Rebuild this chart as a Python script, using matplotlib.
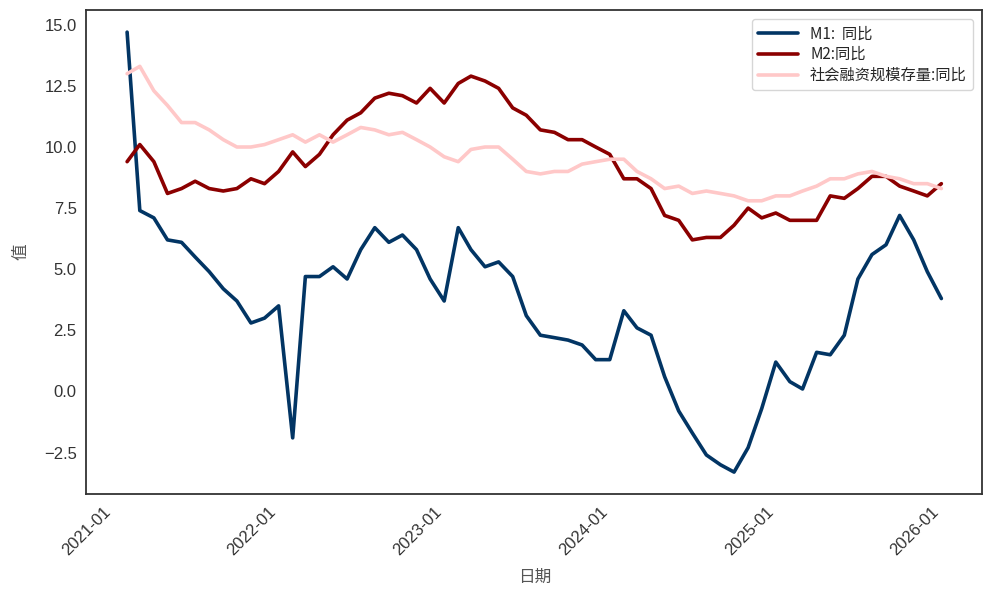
import numpy as np
import pandas as pd
import matplotlib
matplotlib.use('Agg')
import matplotlib.pyplot as plt
import seaborn as sns

sns.set_style('white')
plt.rcParams['font.family'] = ['Liberation Sans', 'Noto Sans CJK SC', 'DejaVu Sans']
plt.rcParams['axes.unicode_minus'] = True

# monthly data, 2021-01 .. 2025-12 (plotted at month end)
dates = pd.date_range('2021-01-31', '2025-12-31', freq='ME')

m1 = [14.7, 7.4, 7.1, 6.2, 6.1, 5.5, 4.9, 4.2, 3.7, 2.8, 3.0, 3.5,
      -1.9, 4.7, 4.7, 5.1, 4.6, 5.8, 6.7, 6.1, 6.4, 5.8, 4.6, 3.7,
      6.7, 5.8, 5.1, 5.3, 4.7, 3.1, 2.3, 2.2, 2.1, 1.9, 1.3, 1.3,
      3.3, 2.6, 2.3, 0.6, -0.8, -1.7, -2.6, -3.0, -3.3, -2.3, -0.7, 1.2,
      0.4, 0.1, 1.6, 1.5, 2.3, 4.6, 5.6, 6.0, 7.2, 6.2, 4.9, 3.8]

m2 = [9.4, 10.1, 9.4, 8.1, 8.3, 8.6, 8.3, 8.2, 8.3, 8.7, 8.5, 9.0,
      9.8, 9.2, 9.7, 10.5, 11.1, 11.4, 12.0, 12.2, 12.1, 11.8, 12.4, 11.8,
      12.6, 12.9, 12.7, 12.4, 11.6, 11.3, 10.7, 10.6, 10.3, 10.3, 10.0, 9.7,
      8.7, 8.7, 8.3, 7.2, 7.0, 6.2, 6.3, 6.3, 6.8, 7.5, 7.1, 7.3,
      7.0, 7.0, 7.0, 8.0, 7.9, 8.3, 8.8, 8.8, 8.4, 8.2, 8.0, 8.5]

tsf = [13.0, 13.3, 12.3, 11.7, 11.0, 11.0, 10.7, 10.3, 10.0, 10.0, 10.1, 10.3,
       10.5, 10.2, 10.5, 10.2, 10.5, 10.8, 10.7, 10.5, 10.6, 10.3, 10.0, 9.6,
       9.4, 9.9, 10.0, 10.0, 9.5, 9.0, 8.9, 9.0, 9.0, 9.3, 9.4, 9.5,
       9.5, 9.0, 8.7, 8.3, 8.4, 8.1, 8.2, 8.1, 8.0, 7.8, 7.8, 8.0,
       8.0, 8.2, 8.4, 8.7, 8.7, 8.9, 9.0, 8.8, 8.7, 8.5, 8.5, 8.3]

labels = ['M1:  同比', 'M2:同比', '社会融资规模存量:同比']
colors = ['#023564', '#8b0000', '#ffc8c8']

fig, ax = plt.subplots(figsize=(9.93, 5.96), dpi=100)
fig.subplots_adjust(left=0.087, right=0.989, top=0.983, bottom=0.171)

for series, lab, col in zip([m1, m2, tsf], labels, colors):
    ax.plot(dates, series, color=col, linewidth=2.6, label=lab)

ax.xaxis.set_major_locator(matplotlib.dates.YearLocator())
ax.xaxis.set_major_formatter(matplotlib.dates.DateFormatter('%Y-%m'))
plt.setp(ax.get_xticklabels(), rotation=45, ha='right')
ax.tick_params(labelsize=12, colors='#333333')

ax.set_xlabel('日期', fontsize=12, color='#555555', family=['Noto Sans CJK SC'], labelpad=8)
ax.set_ylabel('值', fontsize=12, color='#555555', family=['Noto Sans CJK SC'], labelpad=10)

for sp in ax.spines.values():
    sp.set_color('#333333')
    sp.set_linewidth(1.3)

ax.legend(loc='upper right', prop={'family': ['Noto Sans CJK SC'], 'size': 11},
          frameon=True, handlelength=2.6, labelspacing=0.25, borderaxespad=0.6)

fig.savefig('out.png', dpi=100)
